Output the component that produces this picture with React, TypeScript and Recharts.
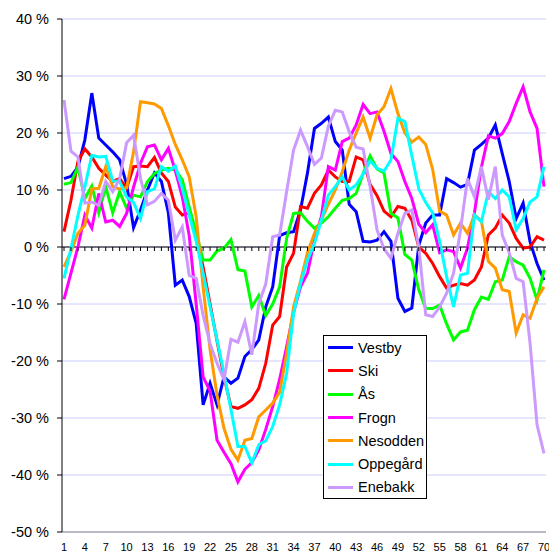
import React from 'react';
import { LineChart, Line, XAxis, YAxis, CartesianGrid, ReferenceLine, Legend } from 'recharts';

const periods: string[] = [
  '1','2','3','4','5','6','7','8','9','10','11','12','13','14','15','16','17','18','19','20',
  '21','22','23','24','25','26','27','28','29','30','31','32','33','34','35','36','37','38','39','40',
  '41','42','43','44','45','46','47','48','49','50','51','52','53','54','55','56','57','58','59','60',
  '61','62','63','64','65','66','67','68','69','70',
];

const yTicks = [-50, -40, -30, -20, -10, 0, 10, 20, 30, 40];

const vestby = [
  12, 12.4, 14, 18.8, 27, 19.1, 17.9, 16.7, 15.3, 11,
  3.4, 6.5, 10, 13, 11.5, 6, -6.7, -5.8, -8.7, -13.4,
  -27.7, -23.9, -27.7, -22.8, -23.9, -23, -19.2, -18, -16.3, -10.5,
  -7, 2, 2.5, 2.7, 6.5, 13, 20.8, 21.7, 22.8, 18.5,
  17, 7.5, 6.2, 1, 0.9, 1.2, 2.7, 1, -9, -11.3,
  -10.7, 0.3, 4.2, 5.6, 5.6, 12, 11.3, 10.5, 11, 17,
  18, 19.1, 21.4, 16.4, 11.5, 5, 7.7, 0.9, -2.9, -5.8,
];

const ski = [
  2.7, 8.2, 15, 17.2, 15.8, 13.8, 12.6, 11.5, 12, 10.3,
  14.1, 14.2, 14.1, 15.7, 13, 11.5, 7, 5.6, 6, 2,
  -3.5, -10, -16.5, -22.8, -28, -28.3, -27.7, -26.8, -24.8, -20.4,
  -13.7, -12.2, -3.5, -1.1, 7.1, 6.8, 9.4, 10.9, 13.5, 12.3,
  11.5, 11.5, 15.8, 15.3, 11, 9, 6.3, 5.3, 7.1, 6.8,
  4.7, 0, -1.1, -2.9, -5.2, -7.2, -6.7, -6.4, -6.7, -5.8,
  -3.5, 2.1, 3.3, 5.6, 4.2, 1.5, -0.2, 0, 1.8, 1.2,
];

const aas = [
  11, 11.3, 14, 8.5, 10.7, 6, 10.6, 6, 9.7, 6.8,
  9.1, 8.8, 11.5, 12.9, 13.5, 13.8, 13.5, 11.8, 7, 2.5,
  -2.3, -2.3, -0.7, -0.2, 1.3, -4, -4.2, -10.5, -8.5, -12,
  -10, -7, 1.5, 5.9, 6, 4.5, 3.3, 4.2, 5.3, 6.8,
  8.2, 8.5, 9.4, 12.9, 16, 13.7, 13, 5.9, 5.1, -1.3,
  -2.3, -7.5, -10.8, -10.8, -10.2, -13.5, -16.3, -14.9, -14.6, -11,
  -8.8, -9.2, -6.1, -5.8, -1.7, -2.6, -3.2, -5.5, -9.3, -4,
];

const frogn = [
  -9.2, -4.6, 0, 5.6, 3.3, 9.4, 4.4, 4.7, 3.6, 5.9,
  10.5, 14.7, 17.6, 17.9, 15.3, 17.3, 13.4, 8.8, 2, -10,
  -22.8, -25.3, -33.9, -36, -38, -41.2, -39, -37.8, -35.6, -32,
  -28, -23.2, -17.5, -11.5, -7, -4.6, 1.2, 5.3, 14.1, 13.5,
  18.5, 19.1, 21.4, 25, 23.4, 23.7, 20.3, 16.4, 15, 11.5,
  8.5, 4, 2.5, 3.9, -1, -0.5, -0.8, -3.7, -0.2, 6,
  14, 19.5, 19.1, 19.9, 22, 25.2, 28.1, 23.7, 20.8, 10.6,
];

const nesodden = [
  -3.5, -0.8, 2.4, 3.8, 10.2, 10.3, 14.1, 10.6, 10.2, 10.4,
  16.7, 25.5, 25.3, 25.1, 24.3, 21.3, 18, 15.3, 12.3, 5.3,
  -7, -18, -26, -31.8, -35.5, -37.4, -33.9, -33.6, -29.8, -28.6,
  -27.4, -25.5, -18.7, -10.5, -6, -1, 2.4, 4.7, 7.5, 10,
  13.2, 17, 20, 22.8, 19.1, 23.2, 24.6, 27.8, 23.4, 20,
  18.4, 19.3, 18, 13.6, 6.3, 5.6, 2.1, 4.2, 2.4, 5.6,
  4.6, -2.5, -3.7, -7.5, -7.8, -15.1, -11.9, -12.5, -9, -7,
];

const oppegaard = [
  -5.5, -0.3, 5.5, 10.6, 16.1, 15.8, 15.9, 11.6, 11.5, 8.8,
  7.8, 5, 9.7, 10.2, 14.1, 13.3, 14.2, 10.3, 5.6, 1,
  -4.6, -10.5, -16.3, -22.2, -28.5, -35, -35, -37.9, -34.7, -34,
  -31.5, -27.7, -22.2, -11.6, -6.4, -2.3, 0.6, 4.7, 9.1, 10.6,
  12.3, 10, 10.9, 12.8, 15.1, 13.8, 13.3, 15.3, 22.6, 22,
  16, 10.2, 7.8, 6, 1, -5.2, -10.5, -4.9, -4.6, 5.6,
  4.4, 9.7, 8.5, 10, 8.8, 3, 5, 7.9, 8.8, 14.1,
];

const enebakk = [
  25.8, 16.8, 15.8, 7.7, 7.9, 7.3, 11.5, 9.7, 12, 18.3,
  19.6, 12, 7.4, 8, 9.4, 8.2, 1.2, 3.5, -5, -5.5,
  -12, -17, -20.4, -23.3, -16.2, -16.7, -13.1, -18.9, -9.9, -6.5,
  1.8, 2.1, 9.7, 17, 20.5, 17.6, 14.5, 15.6, 21.2, 24,
  23.7, 20.2, 17.5, 17.2, 10.6, 3, -0.3, -2, 2.4, 5.9,
  6.5, 0, -11.9, -12.2, -10.5, -8.1, -4.6, 3, 12, 8.8,
  14.1, 8.3, 14.1, 2.1, -1, -5.5, -6.1, -16.9, -31.2, -36.2,
];

const seriesNames = ['Vestby', 'Ski', 'Ås', 'Frogn', 'Nesodden', 'Oppegård', 'Enebakk'];
const seriesColors = ['#0000FF', '#FF0000', '#00FF00', '#FF00FF', '#FF9900', '#00FFFF', '#CC99FF'];
const seriesValues = [vestby, ski, aas, frogn, nesodden, oppegaard, enebakk];

const data = periods.map((p, i) => {
  const row: Record<string, number | string> = { period: p, zero: 0 };
  seriesNames.forEach((n, s) => {
    row[n] = seriesValues[s][i];
  });
  return row;
});

const FONT = '"Liberation Sans", Arial, Helvetica, sans-serif';
const BORDER = '#8c8c8c';

const ZeroTick = (props: any) => {
  const { cx, cy, index } = props;
  if (cx == null || cy == null) return <g key={`zt-${index}`} />;
  return (
    <line key={`zt-${index}`} x1={cx} y1={cy} x2={cx} y2={cy + 4} stroke="#000" strokeWidth={1} />
  );
};

const LegendBox = () => (
  <div
    style={{
      width: 104,
      height: 164,
      boxSizing: 'border-box',
      border: '1px solid #000',
      background: '#fff',
      fontFamily: FONT,
    }}
  >
    {seriesNames.map((n, i) => (
      <div key={n} style={{ height: 23.3, display: 'flex', alignItems: 'center' }}>
        <div style={{ width: 25, height: 3, background: seriesColors[i], marginLeft: 4 }} />
        <span style={{ marginLeft: 5, fontSize: 14.5, color: '#000', lineHeight: '16px' }}>{n}</span>
      </div>
    ))}
  </div>
);

export default function App() {
  return (
    <div style={{ width: 541, height: 545, paddingLeft: 8, paddingTop: 8 }}>
      <style>{'html, body { margin: 0; padding: 0; overflow: hidden; }'}</style>
      <LineChart
        width={541}
        height={545}
        data={data}
        margin={{ top: 11, right: 3, bottom: 0, left: 0 }}
      >
        <CartesianGrid vertical={false} stroke="#ccccff" strokeWidth={1} />
        <XAxis
          dataKey="period"
          scale="point"
          interval={2}
          padding={{ left: 2, right: 2 }}
          height={21}
          tickSize={0}
          tickMargin={11}
          tickLine={false}
          axisLine={{ stroke: BORDER }}
          tick={{ fontSize: 11, fill: '#000', fontFamily: FONT }}
        />
        <XAxis
          xAxisId="top"
          orientation="top"
          dataKey="period"
          scale="point"
          padding={{ left: 2, right: 2 }}
          height={0}
          tick={false}
          tickLine={false}
          axisLine={{ stroke: BORDER }}
        />
        <YAxis
          type="number"
          domain={[-50, 40]}
          ticks={yTicks}
          interval={0}
          width={54}
          tickSize={5}
          tickMargin={8}
          tickLine={{ stroke: '#000' }}
          axisLine={{ stroke: '#000' }}
          tick={{ fontSize: 14.5, fill: '#000', fontFamily: FONT }}
          tickFormatter={(v: number) => `${v} %`}
        />
        <YAxis
          yAxisId="right"
          orientation="right"
          type="number"
          domain={[-50, 40]}
          width={0}
          tick={false}
          tickLine={false}
          axisLine={{ stroke: BORDER }}
        />
        <ReferenceLine y={0} stroke="#000" strokeWidth={1} />
        <Line
          dataKey="zero"
          stroke="none"
          dot={ZeroTick}
          activeDot={false}
          legendType="none"
          isAnimationActive={false}
        />
        {seriesNames.map((n, i) => (
          <Line
            key={n}
            type="linear"
            dataKey={n}
            name={n}
            stroke={seriesColors[i]}
            strokeWidth={3}
            dot={false}
            activeDot={false}
            isAnimationActive={false}
          />
        ))}
        <Legend
          layout="vertical"
          align="center"
          verticalAlign="middle"
          content={() => <LegendBox />}
          wrapperStyle={{ position: 'absolute', left: 315, top: 327, width: 104, height: 164 }}
        />
      </LineChart>
    </div>
  );
}
